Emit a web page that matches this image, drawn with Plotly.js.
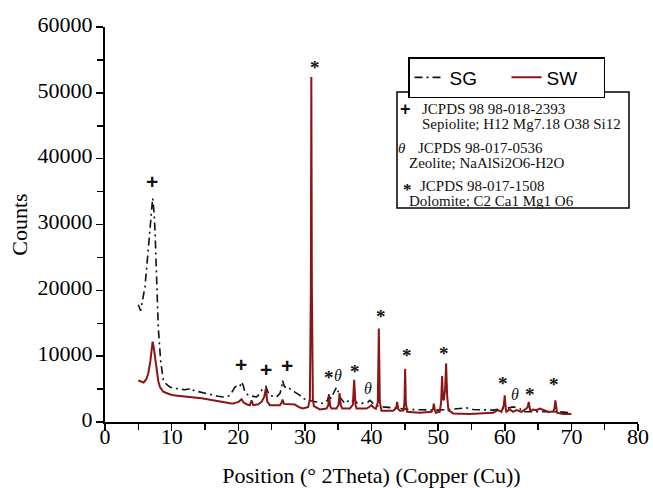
<!DOCTYPE html>
<html>
<head>
<meta charset="utf-8">
<script src="https://cdn.plot.ly/plotly-3.0.1.min.js"></script>
<style>html,body{margin:0;padding:0;background:#fff;}#chart{width:653px;height:488px;}</style>
</head>
<body>
<div id="chart"></div>
<script>
// ---- Data ----
const sgX = [5.0,5.15,5.35,5.6,6.0,6.5,6.85,7.0,7.15,7.35,7.5,7.75,8.0,8.35,8.75,9.25,9.75,10.5,11.25,12.0,12.5,13.0,13.25,14.25,15.25,16.25,17.0,17.75,18.25,18.75,19.25,19.5,20.0,20.25,20.5,20.75,21.0,21.5,22.75,23.25,23.5,24.15,24.4,24.65,25.75,26.25,26.5,26.65,26.85,27.0,27.4,27.75,28.5,29.25,29.75,30.5,31.0,31.75,32.75,33.4,33.65,33.9,34.5,34.75,35.0,35.25,36.0,36.65,37.0,37.4,37.8,38.25,39.0,39.5,39.75,40.25,40.5,41.75,43.75,45.75,47.75,49.75,51.75,53.0,54.25,55.25,56.75,58.25,59.5,60.25,61.25,62.25,62.75,64.0,65.75,67.0,68.25,69.75,70.0];
const sgY = [17800,17300,16900,18300,20500,26300,31300,33000,34000,32000,29300,21800,14300,9300,6300,5700,5300,5100,5050,4900,5000,5150,4800,4550,4300,4050,3900,3800,3850,4050,4800,5300,5550,5400,6100,5500,4550,4050,3800,4300,4800,5400,4700,4050,3800,4300,5200,6300,5600,5300,5400,5050,4550,4050,3550,3300,3200,3050,2800,3300,4300,3550,4800,5300,4600,3800,2800,3300,3050,3400,2900,2800,2900,3050,3300,2800,2550,2300,2050,1900,1850,1800,1900,2000,2150,1900,1800,1800,2050,2050,2300,2050,1550,1550,1550,1600,1550,1400,1400];

const swX = [5.0,5.4,5.8,6.2,6.5,6.8,7.0,7.15,7.3,7.5,7.75,8.0,8.25,8.75,9.5,10.25,11.25,12.0,13.0,13.75,14.5,15.5,16.5,17.25,18.0,18.75,19.25,19.75,20.1,20.5,20.8,21.25,21.75,22.0,22.25,23.0,23.5,23.9,24.15,24.35,24.75,25.5,26.25,26.5,26.65,26.85,27.5,28.5,29.25,29.75,30.5,30.75,30.9,30.97,31.05,31.2,31.35,32.25,33.25,33.5,33.65,33.8,34.0,34.75,35.05,35.2,35.4,35.6,36.75,37.2,37.4,37.6,37.75,39.25,39.75,40.0,40.3,40.65,40.95,41.1,41.25,41.5,43.25,43.7,43.85,44.0,44.25,44.8,44.95,45.05,45.15,45.35,47.25,49.0,49.25,49.35,49.5,49.65,50.25,50.45,50.6,50.72,50.85,51.05,51.2,51.35,51.55,52.25,54.75,56.25,58.25,59.0,59.5,59.85,60.0,60.15,60.25,60.75,61.25,61.75,62.5,63.25,63.45,63.6,63.75,63.85,64.25,64.75,65.25,65.75,66.5,67.25,67.45,67.6,67.75,67.85,68.75,69.75,70.0];
const swY = [6300,6100,6000,6500,7400,9200,11200,12200,11400,9800,8000,6200,5300,4600,4300,4050,3950,3900,3750,3700,3600,3400,3200,3050,2950,2850,2800,2950,3100,3450,2950,2700,2550,3300,2550,2700,3050,3800,5100,3100,2550,2550,2550,2900,3400,2750,2700,2650,2200,2050,2300,3500,20000,52400,20000,3500,2400,1900,2050,2500,4000,2400,2050,2050,2600,4400,2500,2050,2050,2600,6400,2600,2050,2050,2350,2550,2200,2000,3000,14200,3000,1700,1700,2100,3050,2000,1700,1750,3000,8100,3000,1550,1400,1550,2000,2800,1900,1400,1550,3000,7000,3500,3300,5000,8900,4000,1800,1300,1200,1300,1400,1800,1550,2500,4050,2000,1550,1900,1550,1800,1550,2050,2300,3050,1900,1550,1900,1800,2050,1800,1550,1550,2000,3300,1800,1400,1200,1200,1200];

const seriesNames = ["SG", "SW"];
const xTickVals = [0,10,20,30,40,50,60,70,80];
const yTickVals = [0,10000,20000,30000,40000,50000,60000];

// Phase markers placed above peaks
const markX   = [7.05, 20.4, 24.15, 27.3, 31.5, 33.6, 34.9, 37.5, 39.5, 41.5, 45.4, 50.9, 59.8, 61.5, 63.8, 67.4];
const markY   = [36600, 8700, 7950, 8550, 53800, 6800, 7050, 7700, 5050, 16000, 10050, 10400, 5900, 4150, 4200, 5650];
const markSym = ["+","+","+","+","*","*","θ","*","θ","*","*","*","*","θ","*","*"];

const refLines = [
  ["+", "JCPDS 98 98-018-2393"],
  ["",  "Sepiolite; H12 Mg7.18 O38 Si12"],
  ["θ", "JCPDS 98-017-0536"],
  ["",  "Zeolite; NaAlSi2O6-H2O"],
  ["*", "JCPDS 98-017-1508"],
  ["",  "Dolomite; C2 Ca1 Mg1 O6"]
];

// ---- Layout helpers (pixel -> paper) ----
const W = 653, H = 488, ML = 105, MR = 15, MT = 27, MB = 66;
const PW = W - ML - MR, PH = H - MT - MB;
const px = x => (x - ML) / PW;
const py = y => (H - MB - y) / PH;

const serif = "Liberation Serif, Times New Roman, serif";
const sans = "Liberation Sans, Arial, sans-serif";

const traces = [
  {x: sgX, y: sgY, name: seriesNames[0], type: "scatter", mode: "lines",
   line: {color: "#111111", width: 1.6, dash: "8px,4px,2px,4px"}},
  {x: swX, y: swY, name: seriesNames[1], type: "scatter", mode: "lines",
   line: {color: "#8b1414", width: 2}}
];

const annotations = [];
markSym.forEach((s, i) => {
  let font;
  if (s === "+") font = {family: sans, size: 21, color: "#111", weight: "bold"};
  else if (s === "*") font = {family: serif, size: 19, color: "#111", weight: "bold"};
  else font = {family: serif, size: 16, color: "#111", style: "italic"};
  annotations.push({x: markX[i], y: markY[i], xref: "x", yref: "y", text: s,
    showarrow: false, font: font, xanchor: "center", yanchor: "middle"});
});

const lineYs = [109, 124, 148, 163, 186, 201];
const symX  = [405, 0, 402, 0, 407, 0];
const textX = [421, 421, 417, 408, 419, 408];
refLines.forEach((r, i) => {
  if (r[0]) {
    let f;
    if (r[0] === "+") f = {family: sans, size: 18, color: "#111", weight: "bold"};
    else if (r[0] === "*") f = {family: serif, size: 17, color: "#111", weight: "bold"};
    else f = {family: serif, size: 15, color: "#111", style: "italic"};
    annotations.push({x: px(symX[i]), y: py(lineYs[i] + (r[0] === "*" ? 3 : 0)), xref: "paper", yref: "paper",
      text: r[0], showarrow: false, font: f, xanchor: "center", yanchor: "middle", borderpad: 0});
  }
  annotations.push({x: px(textX[i]), y: py(lineYs[i]), xref: "paper", yref: "paper",
    text: r[1], showarrow: false, xanchor: "left", yanchor: "middle", borderpad: 0,
    font: {family: serif, size: 15, color: "#111"}});
});

const axisCommon = {
  showline: true, linecolor: "black", linewidth: 2, mirror: false,
  ticks: "outside", ticklen: 7, tickwidth: 1.5, tickcolor: "black",
  showgrid: false, zeroline: false,
  tickfont: {family: serif, size: 22, color: "black"},
  tickformat: "d", exponentformat: "none", separatethousands: false
};

const layout = {
  width: W, height: H,
  margin: {l: ML, r: MR, t: MT, b: MB, autoexpand: false},
  paper_bgcolor: "white", plot_bgcolor: "white",
  separators: ".",
  xaxis: Object.assign({}, axisCommon, {
    range: [0, 80], tickvals: xTickVals, ticklabelstandoff: -13,
    minor: {dtick: 5, tick0: 0, ticks: "outside", ticklen: 6, tickwidth: 1.5, tickcolor: "black", showgrid: false},
    title: {text: "Position (° 2Theta) (Copper (Cu))", font: {family: serif, size: 22, color: "black"}, standoff: 21}
  }),
  yaxis: Object.assign({}, axisCommon, {
    range: [0, 60000], tickvals: yTickVals, ticklabelstandoff: -1, ticklabelshift: -3,
    minor: {dtick: 5000, tick0: 0, ticks: "outside", ticklen: 6, tickwidth: 1.5, tickcolor: "black", showgrid: false},
    title: {text: "Counts", font: {family: serif, size: 22, color: "black"}, standoff: 4}
  }),
  showlegend: true,
  legend: {
    orientation: "h", x: px(408), y: py(57), xanchor: "left", yanchor: "top",
    bordercolor: "black", borderwidth: 1.5, bgcolor: "white",
    font: {family: sans, size: 19, color: "black"},
    entrywidth: 52, entrywidthmode: "pixels"
  },
  shapes: [
    {type: "rect", xref: "paper", yref: "paper", x0: px(397), x1: px(629), y0: py(92), y1: py(208),
     line: {color: "black", width: 1.5}, fillcolor: "white", layer: "above"}
  ],
  annotations: annotations
};

Plotly.newPlot("chart", traces, layout, {displayModeBar: false, staticPlot: true});
</script>
</body>
</html>
